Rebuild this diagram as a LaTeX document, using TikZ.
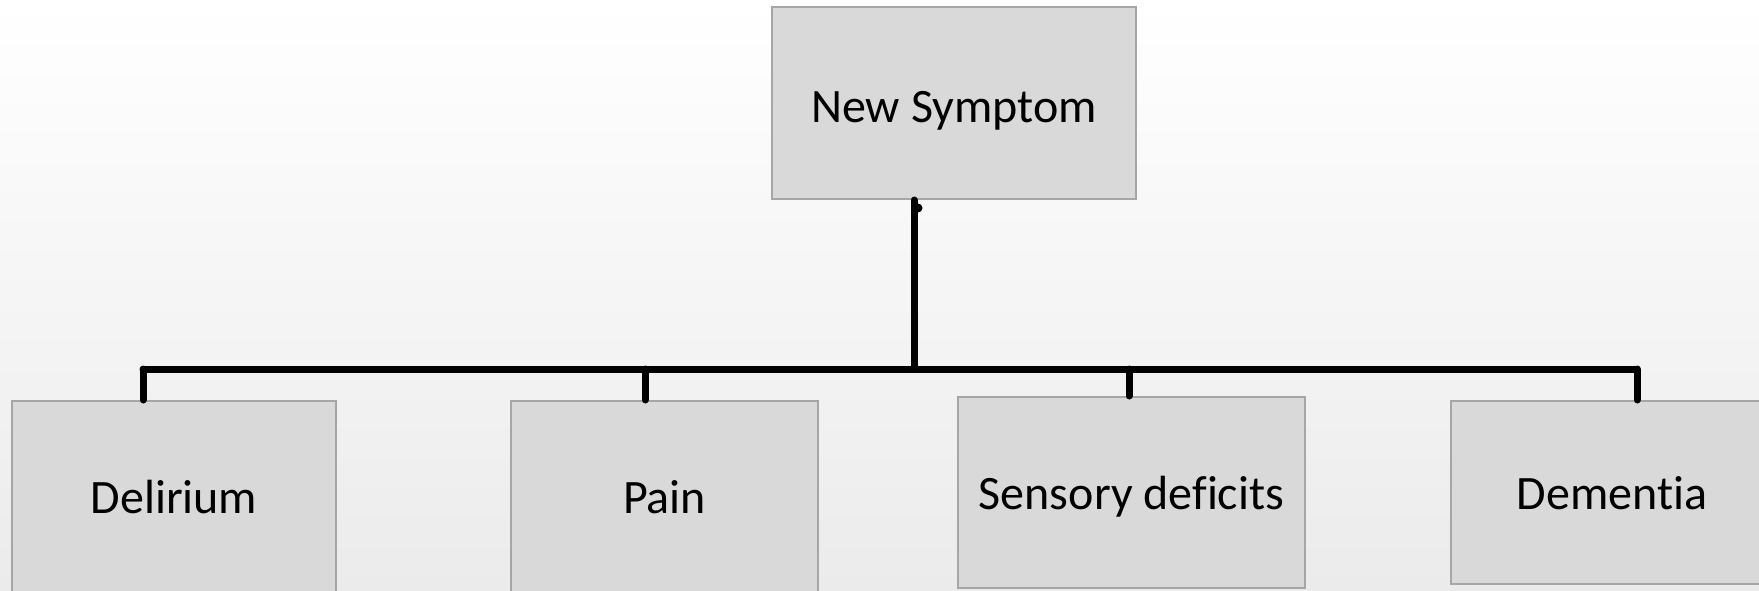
\documentclass[tikz,border=0pt]{standalone}
\usepackage{fontspec}
\setmainfont[Ligatures={NoCommon}]{Carlito}
\definecolor{boxfill}{HTML}{D9D9D9}
\definecolor{boxline}{HTML}{A6A6A6}
\definecolor{bgbot}{HTML}{EBEBEB}
\begin{document}
\begin{tikzpicture}[x=1pt,y=-1pt,
  box/.style={draw=boxline,line width=2pt,fill=boxfill,inner sep=0pt,
    font=\fontsize{48}{56}\selectfont,text=black,text height=30pt,text depth=0pt},
  conn/.style={line width=7pt,line cap=round,draw=black}]
\useasboundingbox (0,0) rectangle (1759,591);
\clip (0,0) rectangle (1759,591);
\shade[top color=white,bottom color=bgbot] (0,0) rectangle (1759,591);
\node[box,minimum width=364pt,minimum height=192pt,text height=39pt] (top) at (954,103) {New Symptom};
\node[box,minimum width=324pt,minimum height=194pt] (del) at (174,498) {Delirium};
\node[box,minimum width=307pt,minimum height=194pt] (pain) at (664.5,498) {Pain};
\node[box,minimum width=347pt,minimum height=191pt,text height=34pt] (sens) at (1131.5,492.5) {Sensory deficits};
\node[box,minimum width=322pt,minimum height=183pt,text height=34pt] (dem) at (1612,492.5) {Dementia};
\coordinate (trunk) at (914,369);
\coordinate (t1) at (143,369);
\coordinate (t2) at (645,369);
\coordinate (t3) at (1129,369);
\coordinate (t4) at (1637,369);
\draw[conn] (trunk |- top.south) -- (trunk);
\fill (918,208) circle (4.5pt);
\draw[conn] (t1) -- (t4);
\draw[conn] (t1) -- (t1 |- del.north);
\draw[conn] (t2) -- (t2 |- pain.north);
\draw[conn] (t3) -- (t3 |- sens.north);
\draw[conn] (t4) -- (t4 |- dem.north);
\end{tikzpicture}
\end{document}
